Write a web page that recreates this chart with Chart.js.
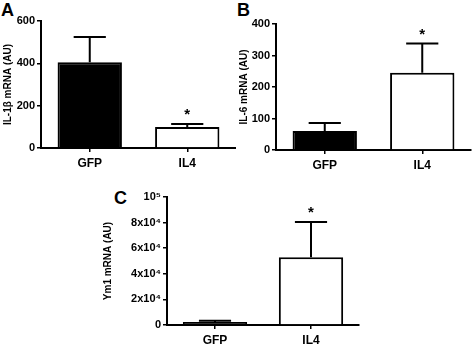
<!DOCTYPE html>
<html>
<head>
<meta charset="utf-8">
<script src="https://cdn.jsdelivr.net/npm/chart.js@4"></script>
<style>
  body { margin: 0; background: #fff; width: 472px; height: 347px; position: relative; overflow: hidden; }
  canvas { position: absolute; }
  .letter { position: absolute; font: bold 18px "Liberation Sans", Arial, sans-serif; line-height: 1; color: #000; }
</style>
</head>
<body>
<div class="letter" style="left:1px;top:1px">A</div>
<div class="letter" style="left:237px;top:1px">B</div>
<div class="letter" style="left:114px;top:189px">C</div>
<canvas id="chartA" style="left:0;top:0" width="236" height="175"></canvas>
<canvas id="chartB" style="left:236px;top:0" width="236" height="175"></canvas>
<canvas id="chartC" style="left:100px;top:175px" width="260" height="172"></canvas>
<script>
const groups = ['GFP', 'IL4'];
const fillColors = ['#000000', '#ffffff'];
const marks = ['', '*'];

// IL-1b panel
const il1bMean = [405, 99];
const il1bErr = [524, 113];
const il1bTicks = [0, 200, 400, 600];

// IL-6 panel
const il6Mean = [60, 245];
const il6Err = [86, 338];
const il6Ticks = [0, 100, 200, 300, 400];

// Ym1 panel
const ym1Mean = [2300, 53000];
const ym1Err = [3400, 80500];
const ym1Ticks = [0, 20000, 40000, 60000, 80000, 100000];
const ym1TickLabels = ['0', '2x10\u2074', '4x10\u2074', '6x10\u2074', '8x10\u2074', '10\u2075'];

const fontFam = '"Liberation Sans", Arial, sans-serif';

const errorBars = {
    id: 'errorBars',
    afterDatasetsDraw(chart) {
        const ctx = chart.ctx;
        const y = chart.scales.y;
        const meta = chart.getDatasetMeta(0);
        const errs = chart.options.plugins.errorBars.tops;
        ctx.save();
        ctx.strokeStyle = '#000';
        ctx.lineWidth = 2;
        meta.data.forEach(function (bar, i) {
            const top = y.getPixelForValue(errs[i]);
            const half = bar.width / 4;
            ctx.beginPath();
            ctx.moveTo(bar.x, bar.y);
            ctx.lineTo(bar.x, top);
            ctx.moveTo(bar.x - half, top);
            ctx.lineTo(bar.x + half, top);
            ctx.stroke();
            if (marks[i]) {
                ctx.fillStyle = '#000';
                ctx.font = 'bold 15px ' + fontFam;
                ctx.textAlign = 'center';
                ctx.textBaseline = 'alphabetic';
                ctx.fillText(marks[i], bar.x, top - 5);
            }
        });
        ctx.restore();
    }
};

function makeChart(id, values, errs, ticks, title, opts) {
    new Chart(document.getElementById(id), {
        type: 'bar',
        data: {
            labels: groups,
            datasets: [{
                data: values,
                backgroundColor: fillColors,
                borderColor: '#000',
                borderWidth: 2,
                barPercentage: opts.bar,
                categoryPercentage: 1,
            }]
        },
        options: {
            responsive: false,
            animation: false,
            layout: { padding: { top: opts.top, right: opts.right, left: 0, bottom: 0 } },
            plugins: {
                legend: { display: false },
                tooltip: { enabled: false },
                errorBars: { tops: errs },
            },
            scales: {
                x: {
                    grid: { display: true, drawOnChartArea: false, offset: false, tickLength: 4, color: '#000', lineWidth: 1.5 },
                    border: { color: '#000', width: 2 },
                    ticks: { color: '#000', padding: 4, font: { family: fontFam, size: 12, weight: 'bold' } },
                    afterFit: function (s) { s.height = opts.xh; },
                },
                y: {
                    min: 0,
                    max: ticks[ticks.length - 1],
                    afterBuildTicks: function (s) { s.ticks = ticks.map(v => ({ value: v })); },
                    grid: { display: true, drawOnChartArea: false, tickLength: 4, color: '#000', lineWidth: 1.5 },
                    border: { color: '#000', width: 2 },
                    ticks: {
                        color: '#000',
                        padding: 2,
                        font: { family: fontFam, size: 11, weight: 'bold' },
                        callback: opts.labels ? function (v, i) { return opts.labels[i]; } : undefined,
                    },
                    title: { display: true, text: title, color: '#000', padding: { top: 2, bottom: 1 }, font: { family: fontFam, size: 10, weight: 'bold' } },
                    afterFit: function (s) { s.width = opts.yw; },
                }
            }
        },
        plugins: [errorBars]
    });
}

makeChart('chartA', il1bMean, il1bErr, il1bTicks, 'IL-1\u03b2 mRNA (AU)', { top: 21, right: 0, xh: 27, yw: 41, bar: 0.66 });
makeChart('chartB', il6Mean, il6Err, il6Ticks, 'IL-6 mRNA (AU)', { top: 24, right: 1, xh: 25, yw: 40, bar: 0.66 });
makeChart('chartC', ym1Mean, ym1Err, ym1Ticks, 'Ym1 mRNA (AU)', { top: 22, right: 1, xh: 22, yw: 67, bar: 0.67, labels: ym1TickLabels });
</script>
</body>
</html>
